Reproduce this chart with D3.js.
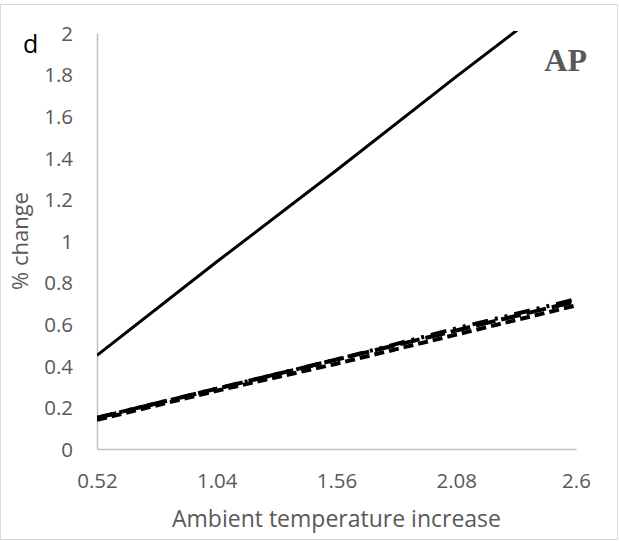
<!DOCTYPE html>
<html><head><meta charset="utf-8">
<script src="https://cdn.jsdelivr.net/npm/d3@7"></script>
<style>body{margin:0;background:#fff}svg{display:block}</style>
</head><body>
<svg id="c" width="619" height="541"></svg>
<script>
const xTicks = [0.52, 1.04, 1.56, 2.08, 2.6];
const yTicks = [0, 0.2, 0.4, 0.6, 0.8, 1, 1.2, 1.4, 1.6, 1.8, 2];
const seriesSolid = [0.45, 0.90, 1.34, 1.79, 2.23];
const seriesLongDash = [0.15, 0.29, 0.43, 0.57, 0.71];
const seriesDashDotDot = [0.15, 0.29, 0.43, 0.58, 0.72];
const seriesDash = [0.14, 0.28, 0.41, 0.55, 0.69];
const panelLabel = "d";
const seriesTitle = "AP";
const xTitle = "Ambient temperature increase";
const yTitle = "% change";

const svg = d3.select("#c");
const m = {l:97, r:576, t:33, b:449};
const x = d3.scaleLinear().domain([0.52, 2.6]).range([m.l, m.r]);
const y = d3.scaleLinear().domain([0, 2]).range([m.b, m.t]);
const font = "'Open Sans', 'Liberation Sans', sans-serif";
const grey = "#595959";

svg.append("rect").attr("x",0.5).attr("y",4.5).attr("width",617).attr("height",535)
  .attr("fill","#fff").attr("stroke","#d9d9d9");

svg.append("defs").append("clipPath").attr("id","clip").append("rect")
  .attr("x",m.l).attr("y",m.t-2).attr("width",m.r-m.l+20).attr("height",m.b-m.t+4);

// axes
const xa = svg.append("g").attr("transform",`translate(0,${m.b})`)
  .call(d3.axisBottom(x).tickValues(xTicks).tickSize(0).tickPadding(24).tickFormat(d=>String(d)));
const ya = svg.append("g").attr("transform",`translate(${m.l},0)`)
  .call(d3.axisLeft(y).tickValues(yTicks).tickSize(0).tickPadding(24).tickFormat(d=>String(d)));
[xa, ya].forEach(a=>{
  a.select(".domain").attr("stroke","#bfbfbf").attr("stroke-width",1.5);
  a.selectAll("text").attr("fill",grey).style("font-family",font).style("font-size","20.5px");
});
xa.selectAll("text").attr("dy",null).attr("y",39);
ya.selectAll("text").attr("dy","0.36em");

const line = d3.line().x((d,i)=>x(xTicks[i])).y(d=>y(d));
const g = svg.append("g").attr("clip-path","url(#clip)");
g.append("path").attr("d",line(seriesSolid)).attr("fill","none").attr("stroke","#000").attr("stroke-width",3);
g.append("path").attr("d",line(seriesLongDash)).attr("fill","none").attr("stroke","#000").attr("stroke-width",4).attr("stroke-dasharray","20,6");
g.append("path").attr("d",line(seriesDashDotDot)).attr("fill","none").attr("stroke","#000").attr("stroke-width",4).attr("stroke-dasharray","16,7,3,7,3,7");
g.append("path").attr("d",line(seriesDash)).attr("fill","none").attr("stroke","#000").attr("stroke-width",4).attr("stroke-dasharray","10,5");

svg.append("text").attr("x",23).attr("y",53).text(panelLabel)
  .style("font-family",font).style("font-size","25px").attr("fill","#000");
svg.append("text").attr("x",587).attr("y",71).attr("text-anchor","end").text(seriesTitle)
  .style("font-family","'Liberation Serif', serif").style("font-weight","bold").style("font-size","32px").attr("fill",grey);
svg.append("text").attr("x",(m.l+m.r)/2).attr("y",527).attr("text-anchor","middle").text(xTitle)
  .style("font-family",font).style("font-size","23px").attr("fill",grey);
svg.append("text").attr("transform",`translate(28,241) rotate(-90)`).attr("text-anchor","middle").text(yTitle)
  .style("font-family",font).style("font-size","22px").attr("fill",grey);
</script>
</body></html>
